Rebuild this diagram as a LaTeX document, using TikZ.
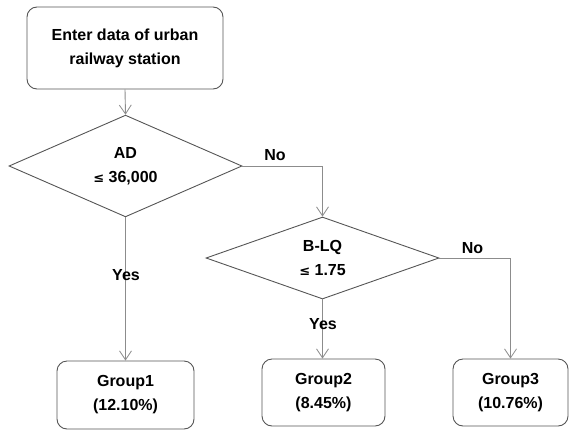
\documentclass[tikz,border=0pt]{standalone}
\usepackage{fontspec}
\setmainfont{Liberation Sans}
\newfontfamily\symfont{DejaVu Sans}
\usetikzlibrary{shapes.geometric,arrows.meta}
\definecolor{linegray}{RGB}{140,140,140}
\definecolor{boxgray}{RGB}{85,85,85}
\newcommand{\leqsym}{{\symfont\fontsize{13}{24}\selectfont ≤}}
\begin{document}
\begin{tikzpicture}[x=1pt,y=-1pt,
  font=\fontsize{16}{24}\selectfont\bfseries,
  procbox/.style={draw=boxgray,line width=0.9pt,rounded corners=10pt,align=center,inner sep=0pt},
  decbox/.style={diamond,draw=boxgray,line width=0.9pt,align=center,inner sep=0pt,minimum width=233pt,minimum height=82pt},
  conn/.style={draw=linegray,line width=0.9pt},
  arr/.style={conn,-{Straight Barb[length=9pt,width=12pt,line width=0.8pt]}},
  lbl/.style={inner sep=0pt}]
\useasboundingbox (0,0) rectangle (569,431);
\node[procbox,minimum width=196pt,minimum height=82pt] (start) at (125,48) {Enter data of urban\\railway station};
\node[decbox] (d1) at (125.5,166) {AD\\\leqsym\ 36,000};
\node[decbox] (d2) at (322.5,258) {B-LQ\\\leqsym\ 1.75};
\node[procbox,minimum width=137pt,minimum height=68pt] (g1) at (125.5,395) {Group1\\(12.10\%)};
\node[procbox,minimum width=123pt,minimum height=67pt] (g2) at (323.5,392.5) {Group2\\(8.45\%)};
\node[procbox,minimum width=115pt,minimum height=67pt] (g3) at (510.5,392.5) {Group3\\(10.76\%)};
\draw[arr] (start.south) -- (d1.north);
\draw[arr] (d1.east) -| (d2.north);
\draw[arr] (d2.east) -| (g3.north);
\draw[arr] (d1.south) -- (g1.north);
\draw[arr] (d2.south) -- (d2.south |- g2.north);
\node[lbl] (no1) at (275,155) {No};
\node[lbl] (no2) at (472.5,248) {No};
\node[lbl] (yes1) at (126,275) {Yes};
\node[lbl] (yes2) at (323,324) {Yes};
\end{tikzpicture}
\end{document}
